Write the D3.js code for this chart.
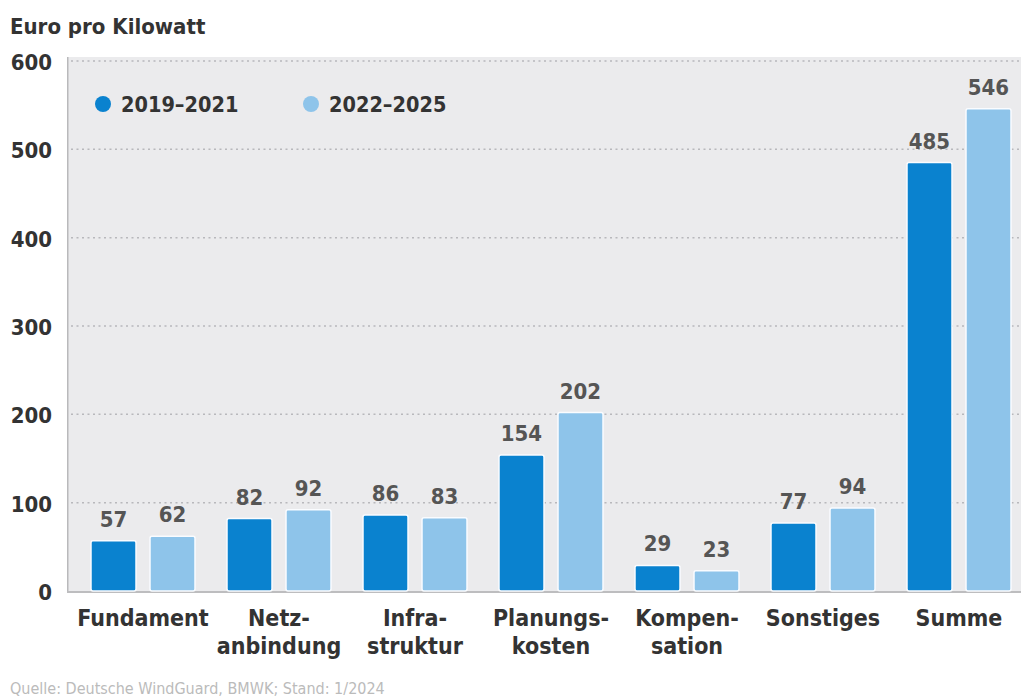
<!DOCTYPE html>
<html><head><meta charset="utf-8">
<script src="https://cdn.jsdelivr.net/npm/d3@7"></script>
<style>body{margin:0;background:#fff;} svg{display:block;}</style>
</head><body>
<svg id="c" width="1021" height="699"></svg>
<script>
const categories = [["Fundament"],["Netz-","anbindung"],["Infra-","struktur"],["Planungs-","kosten"],["Kompen-","sation"],["Sonstiges"],["Summe"]];
const series = ["2019–2021","2022–2025"];
const values2019 = [57,82,86,154,29,77,485];
const values2022 = [62,92,83,202,23,94,546];
const yTicks = [0,100,200,300,400,500,600];
const yTitle = "Euro pro Kilowatt";
const source = "Quelle: Deutsche WindGuard, BMWK; Stand: 1/2024";

const colors = ["#0a82cf","#8ec4ea"];
const font = "'DejaVu Sans Condensed','DejaVu Sans',sans-serif";
const svg = d3.select("#c");
const plot = {left:67, right:1021, top:57, bottom:591};

const keys = categories.map(c=>c.join(""));
const x0 = d3.scaleBand().domain(keys).range([75,1027]).paddingInner(0).paddingOuter(0);
const x1 = d3.scaleBand().domain(series).range([0,x0.bandwidth()]).paddingInner(0.237).paddingOuter(0.271);
const y = d3.scaleLinear().domain([0,600]).range([591,61]);

// background
svg.append("rect").attr("x",plot.left).attr("y",plot.top).attr("width",plot.right-plot.left).attr("height",plot.bottom-plot.top).attr("fill","#ebebed");

// grid
svg.append("g").selectAll("line").data(yTicks.filter(d=>d>0)).join("line")
  .attr("x1",plot.left+4).attr("x2",plot.right).attr("y1",d=>y(d)).attr("y2",d=>y(d))
  .attr("stroke","#b8b8bc").attr("stroke-width",1.5).attr("stroke-dasharray","2,3.5");

// y axis labels
const yAxis = d3.axisLeft(y).tickValues(yTicks).tickSize(0).tickPadding(0);
const ya = svg.append("g").attr("transform","translate(52,0)").call(yAxis);
ya.select(".domain").remove();
ya.selectAll("text").attr("font-family",font).attr("font-weight","bold").attr("font-size",22).attr("fill","#333").attr("dy","0.38em");

// axis lines
svg.append("line").attr("x1",plot.left+0.75).attr("x2",plot.left+0.75).attr("y1",plot.top).attr("y2",plot.bottom+1).attr("stroke","#b9b9bb").attr("stroke-width",1.5);
svg.append("line").attr("x1",plot.left).attr("x2",plot.right).attr("y1",plot.bottom+1).attr("y2",plot.bottom+1).attr("stroke","#bdbdbf").attr("stroke-width",2);

// bars
const data = keys.map((k,i)=>({k, vals:[values2019[i],values2022[i]]}));
const groups = svg.append("g").selectAll("g").data(data).join("g").attr("transform",d=>`translate(${x0(d.k)},0)`);
groups.selectAll("rect").data(d=>d.vals.map((v,j)=>({s:series[j],v,j}))).join("rect")
  .attr("x",d=>x1(d.s)).attr("width",x1.bandwidth())
  .attr("y",d=>y(d.v)).attr("height",d=>y(0)-y(d.v))
  .attr("rx",2).attr("fill",d=>colors[d.j]).attr("stroke","#fafcff").attr("stroke-width",1.5);
groups.selectAll("text").data(d=>d.vals.map((v,j)=>({s:series[j],v,j}))).join("text")
  .attr("x",d=>x1(d.s)+x1.bandwidth()/2).attr("y",d=>y(d.v)-14)
  .attr("text-anchor","middle").attr("font-family",font).attr("font-weight","bold").attr("font-size",22).attr("fill","#555")
  .text(d=>d.v);

// x labels
const xl = svg.append("g").selectAll("text").data(categories).join("text")
  .attr("x",(d,i)=>x0(keys[i])+x0.bandwidth()/2).attr("y",626)
  .attr("text-anchor","middle").attr("font-family",font).attr("font-weight","bold").attr("font-size",23).attr("fill","#333");
xl.selectAll("tspan").data(d=>d).join("tspan").attr("x",function(){return this.parentNode.getAttribute("x");}).attr("dy",(d,i)=>i===0?0:28).text(d=>d);

// title
svg.append("text").attr("x",10).attr("y",34).attr("font-family",font).attr("font-weight","bold").attr("font-size",22).attr("fill","#333").text(yTitle);

// legend
const legX = [103,311];
const leg = svg.append("g").selectAll("g").data(series).join("g").attr("transform",(d,i)=>`translate(${legX[i]},104)`);
leg.append("circle").attr("r",8).attr("fill",(d,i)=>colors[i]);
leg.append("text").attr("x",18).attr("y",8).attr("font-family",font).attr("font-weight","bold").attr("font-size",21.5).attr("fill","#333").text(d=>d);

// source
svg.append("text").attr("x",10).attr("y",694).attr("font-family",font).attr("font-size",16).attr("fill","#bbbbbb").text(source);
</script>
</body></html>
